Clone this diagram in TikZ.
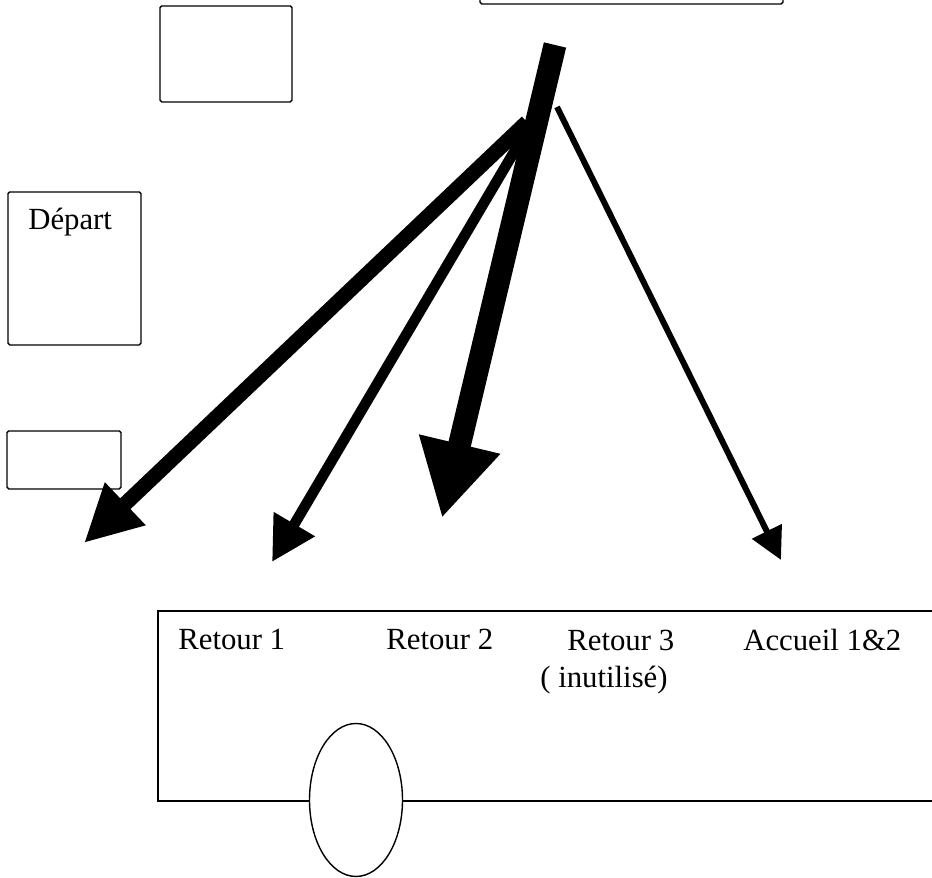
\documentclass[tikz,border=0pt]{standalone}
\usepackage{fontspec}
\setmainfont{Liberation Serif}
\usetikzlibrary{arrows.meta,shapes.geometric}
\begin{document}
\begin{tikzpicture}[
    box/.style={draw, line width=0.8pt, rounded corners=1pt, inner sep=0pt},
    lbl/.style={anchor=base west, inner sep=0pt, font=\fontsize{17.5}{21}\selectfont},
    mainflow/.style={line width=13pt, -{Triangle[length=1.52cm, width=1.56cm]}},
    flowone/.style={line width=8.5pt, -{Triangle[length=1.14cm, width=1.10cm]}},
    flowtwo/.style={line width=6pt, -{Triangle[length=0.88cm, width=0.90cm]}},
    flowacc/.style={line width=3.4pt, -{Triangle[length=0.64cm, width=0.64cm]}}
  ]
  \clip (0,0) rectangle (18.64,17.56);

  \node[box, minimum width=2.64cm, minimum height=1.92cm] (b1) at (4.52,16.48) {};
  \node[box, minimum width=2.66cm, minimum height=3.06cm] (dep) at (1.49,12.19) {};
  \node[lbl] (deptxt) at (0.56,12.96) {Départ};
  \node[box, minimum width=2.28cm, minimum height=1.16cm] (b2) at (1.28,8.36) {};
  \node[box, minimum width=6.06cm, minimum height=1.02cm] (top) at (12.63,17.99) {};

  \node[box, rounded corners=0pt, minimum width=16.34cm, minimum height=3.80cm] (quai) at (11.33,3.44) {};
  \node[draw, ellipse, fill=white, line width=0.8pt, minimum width=1.86cm, minimum height=3.06cm, inner sep=0pt] (roue) at (7.12,1.56) {};

  \node[lbl] (t1) at (3.56,4.56) {Retour 1};
  \node[lbl] (t2) at (7.72,4.56) {Retour 2};
  \node[lbl] (t3) at (11.34,4.54) {Retour 3};
  \node[lbl] (t3b) at (10.80,3.80) {( inutilisé)};
  \node[lbl] (t4) at (14.86,4.54) {Accueil 1\&2};

  \coordinate (src) at (11.10,16.66);
  \coordinate (hubA) at (10.54,15.12);
  \coordinate (hubB) at (10.54,14.96);
  \coordinate (hubC) at (11.14,15.42);
  \coordinate (r1) at (1.68,6.70);
  \coordinate (r2) at (5.44,6.32);
  \coordinate (r3) at (8.84,7.20);
  \coordinate (acc) at (15.62,6.36);

  \draw[flowone] (hubA) -- (r1);
  \draw[flowtwo] (hubB) -- (r2);
  \draw[mainflow] (src) -- (r3);
  \draw[flowacc] (hubC) -- (acc);
\end{tikzpicture}
\end{document}
